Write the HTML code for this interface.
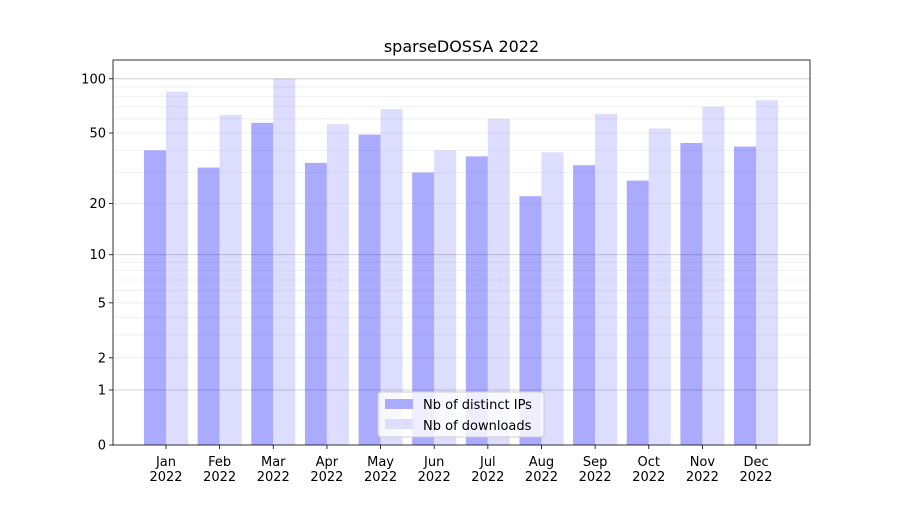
<!DOCTYPE html>
<html><head><meta charset="utf-8"><style>
body{margin:0;background:#fff;}
svg text{font-family:"DejaVu Sans","Liberation Sans",sans-serif;fill:#000;}
</style></head><body>
<svg id="chart" width="900" height="500"></svg>
<script>
const months=["Jan","Feb","Mar","Apr","May","Jun","Jul","Aug","Sep","Oct","Nov","Dec"];
const ips=[40,32,57,34,49,30,37,22,33,27,44,42];
const downloads=[85,63,100,56,68,40,60,39,64,53,70,76];
const majorTicks=[0,1,2,5,10,20,50,100];
const majorGrid=[1,10,100];
const minorGrid=[2,3,4,5,6,7,8,9,20,30,40,50,60,70,80,90];
const NS="http://www.w3.org/2000/svg";
const svg=document.getElementById('chart');
const L=113,R=810,T=60,B=445,K=182.7;
function y(v){return B-K*Math.log10(v+1);}
function xc(i){return 166+i*53.64;}
function el(t,a,p){const e=document.createElementNS(NS,t);for(const k in a)e.setAttribute(k,a[k]);(p||svg).appendChild(e);return e;}
months.forEach((m,i)=>{
const b1=el('rect',{x:xc(i)-22,y:y(ips[i]),width:22,height:B-y(ips[i]),fill:'#aaaaff'});


const b2=el('rect',{x:xc(i),y:y(downloads[i]),width:22,height:B-y(downloads[i]),fill:'#ddddff'});


const tk=el('line',{x1:xc(i),x2:xc(i),y1:B,y2:B+4,stroke:'#000','stroke-width':0.8});


const t=el('text',{x:xc(i),y:B+21,'text-anchor':'middle','font-size':13});t.textContent=m;


const t2=el('text',{x:xc(i),y:B+36,'text-anchor':'middle','font-size':13});t2.textContent='2022';


});
minorGrid.forEach(v=>{const l=el('line',{x1:L,x2:R,y1:y(v),y2:y(v),stroke:'#000','stroke-opacity':0.07,'stroke-width':0.8});

});
majorGrid.forEach(v=>{const l=el('line',{x1:L,x2:R,y1:y(v),y2:y(v),stroke:'#000','stroke-opacity':0.22,'stroke-width':0.8});

});
majorTicks.forEach(v=>{
const tk=el('line',{x1:L-4,x2:L,y1:y(v),y2:y(v),stroke:'#000','stroke-width':0.8});


const t=el('text',{x:L-7,y:y(v)+4.5,'text-anchor':'end','font-size':13});t.textContent=v;

});
const fr=el('rect',{x:L,y:T,width:R-L,height:B-T,fill:'none',stroke:'#000','stroke-width':0.8});


const ti=el('text',{x:(L+R)/2,y:52,'text-anchor':'middle','font-size':16});ti.textContent='sparseDOSSA 2022';


const lg=el('g',{});


el('rect',{x:378,y:392,width:166,height:45,rx:3,fill:'#fff','fill-opacity':0.8,stroke:'#ccc'},lg);
const e1=el('rect',{x:385,y:399,width:28,height:10,fill:'#aaaaff'},lg);


const l1=el('text',{x:423,y:409,'font-size':13},lg);l1.textContent='Nb of distinct IPs';


const e2=el('rect',{x:385,y:419,width:28,height:10,fill:'#ddddff'},lg);


const l2=el('text',{x:423,y:430,'font-size':13},lg);l2.textContent='Nb of downloads';


</script>
</body></html>
